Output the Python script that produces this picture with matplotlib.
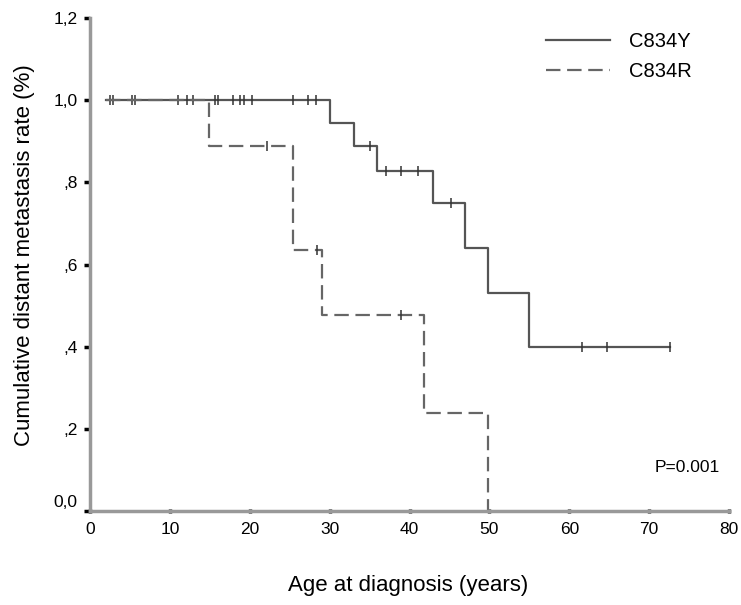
import numpy as np
import matplotlib
matplotlib.use("Agg")
from matplotlib import pyplot as plt
from matplotlib import transforms

plt.rcParams['font.family'] = ['Liberation Sans', 'DejaVu Sans']

# Kaplan-Meier steps (age in years, cumulative rate)
y_times = [2.0, 30.0, 33.0, 35.9, 42.9, 46.9, 49.8, 54.9, 72.6]
y_surv = [1.0, 0.944, 0.889, 0.827, 0.749, 0.639, 0.530, 0.400, 0.400]
y_cens = [2.5, 2.9, 5.2, 5.6, 11.0, 12.1, 12.9, 15.6, 16.0, 17.9, 18.8, 19.3,
          20.3, 25.4, 27.3, 28.3, 35.0, 37.0, 38.9, 41.0, 45.2, 61.6, 64.7, 72.6]

r_times = [2.0, 14.9, 25.4, 29.0, 41.8, 49.8]
r_surv = [1.0, 0.889, 0.635, 0.476, 0.238, 0.0]
r_cens = [22.1, 28.4, 38.9]

x_ticks = [0, 10, 20, 30, 40, 50, 60, 70, 80]
y_ticks = [0.0, 0.2, 0.4, 0.6, 0.8, 1.0, 1.2]
y_ticklabels = ["0,0", ",2", ",4", ",6", ",8", "1,0", "1,2"]


def step_value(times, surv, t):
    i = np.searchsorted(times, t, side='right') - 1
    return np.array(surv)[i]


fig = plt.figure(figsize=(7.41, 6.05), dpi=100)
ax = fig.add_axes([0.1215, 0.1554, 0.8623, 0.8148])

ax.step(y_times, y_surv, where='post', color='#555555', lw=1.6, label='C834Y')
ax.plot(y_cens, step_value(y_times, y_surv, y_cens), ls='none', marker='|',
        ms=7, mew=1.1, color='#333333')

ax.step(r_times, r_surv, where='post', color='#666666', lw=1.6,
        dashes=(6.5, 3), label='C834R')
ax.plot(r_cens, step_value(r_times, r_surv, r_cens), ls='none', marker='|',
        ms=7, mew=1.1, color='#333333')

ax.set_xlim(0, 80)
ax.set_ylim(0, 1.2)
ax.set_xticks(x_ticks)
ax.set_yticks(y_ticks)
ax.set_yticklabels(y_ticklabels)
ax.tick_params(axis='both', labelsize=12.5, color='black', width=2.5)
ax.tick_params(axis='y', length=4, pad=5, direction='out')
ax.tick_params(axis='x', length=2.5, pad=7, direction='inout')

# SPSS puts the 0,0 label a bit above its tick
off = transforms.ScaledTranslation(0, 7.5 / 72, fig.dpi_scale_trans)
lbl = ax.get_yticklabels()[0]
lbl.set_transform(lbl.get_transform() + off)

for s in ['top', 'right']:
    ax.spines[s].set_visible(False)
for s in ['left', 'bottom']:
    ax.spines[s].set_color('#999999')
    ax.spines[s].set_linewidth(2.5)

fig.text(408 / 741, 1 - 586 / 605, 'Age at diagnosis (years)', fontsize=16,
         ha='center', va='center')
fig.text(25 / 741, 1 - 255 / 605, 'Cumulative distant metastasis rate (%)',
         fontsize=16, rotation=90, ha='center', va='center')

ax.text(0.985, 0.088, 'P=0.001', transform=ax.transAxes, ha='right',
        va='center', fontsize=12.5)

ax.legend(loc='upper left', bbox_to_anchor=(546 / 741, 1 - 32 / 605),
          bbox_transform=fig.transFigure, frameon=False, fontsize=14.5,
          handlelength=3.2, handletextpad=0.9, labelspacing=0.55,
          borderpad=0, borderaxespad=0)

plt.savefig('out.png', dpi=100)
